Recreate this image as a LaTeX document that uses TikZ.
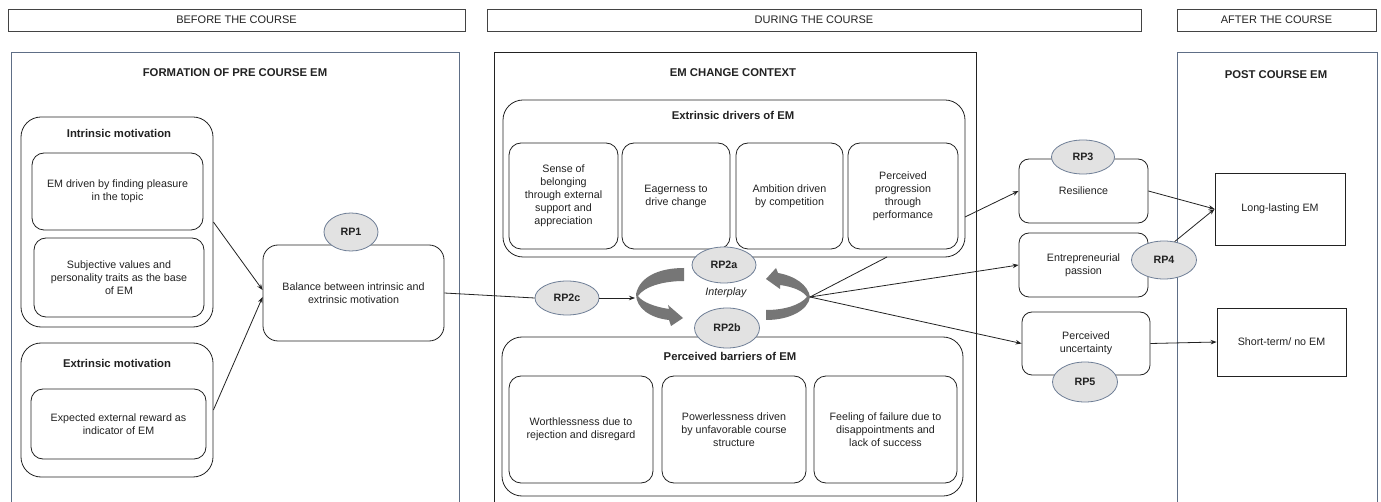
\documentclass[tikz,border=0pt]{standalone}
\usepackage{fontspec}
\setmainfont{Liberation Sans}
\usetikzlibrary{shapes.geometric,arrows.meta}
\definecolor{slate}{HTML}{5E6E86}
\definecolor{ink}{HTML}{222222}
\definecolor{rpfill}{HTML}{E2E2E2}
\definecolor{rpline}{HTML}{6E7E96}
\definecolor{ribboncol}{HTML}{767676}
\begin{document}
\begin{tikzpicture}[x=1pt,y=-1pt,
 body/.style={font=\fontsize{10.7}{13}\selectfont, text=ink, align=center},
 titlef/.style={font=\fontsize{11.3}{13}\selectfont\bfseries, text=ink, inner sep=0},
 hdr/.style={draw=ink!85, line width=0.9pt, font=\fontsize{11}{13}\selectfont, text=ink, inner sep=0},
 panel/.style={draw=slate, line width=0.9pt, inner sep=0},
 cpanel/.style={draw=ink, line width=0.9pt, inner sep=0},
 cont/.style={draw=ink, line width=0.8pt, rounded corners=20pt, inner sep=0},
 box/.style={draw=ink, line width=0.8pt, rounded corners=12pt, body, inner sep=0},
 sqbox/.style={draw=ink, line width=0.8pt, body, inner sep=0},
 rp/.style={ellipse, draw=rpline, fill=rpfill, line width=0.8pt, inner sep=0, font=\fontsize{10.7}{13}\selectfont\bfseries, text=ink},
 conn/.style={draw=ink, line width=0.8pt},
 arr/.style={conn, -{Stealth[length=6pt,width=4.5pt]}},
 ribbon/.style={fill=ribboncol},
]
\useasboundingbox (0,0) rectangle (1381,502);
\fill[white] (0,0) rectangle (1381,502);

% headers
\node[hdr, minimum width=457pt, minimum height=22pt] (hb) at (236.5,20) {BEFORE THE COURSE};
\node[hdr, minimum width=654pt, minimum height=22pt] (hd) at (814,20) {DURING THE COURSE};
\node[hdr, minimum width=199pt, minimum height=22pt] (ha) at (1276.5,20) {AFTER THE COURSE};

% panels
\node[panel, minimum width=448pt, minimum height=460pt] (pf) at (235,282) {};
\node[cpanel, minimum width=482pt, minimum height=460pt] (pc) at (735,282) {};
\node[panel, minimum width=200pt, minimum height=460pt] (pp) at (1277,282) {};
\node[titlef] (tf) at (235,73) {FORMATION OF PRE COURSE EM};
\node[titlef] (tc) at (733,73) {EM CHANGE CONTEXT};
\node[titlef] (tp) at (1276,75) {POST COURSE EM};

% before the course
\node[cont, minimum width=192pt, minimum height=210pt] (intr) at (117,222) {};
\node[titlef] (intrt) at (119,133) {Intrinsic motivation};
\node[box, minimum width=171pt, minimum height=77pt] (i1) at (117.5,191.5) {EM driven by finding pleasure\\in the topic};
\node[box, minimum width=170pt, minimum height=79pt] (i2) at (119,277.5) {Subjective values and\\personality traits as the base\\of EM};
\node[cont, minimum width=192pt, minimum height=134pt] (extr) at (117,410) {};
\node[titlef] (extrt) at (117,363) {Extrinsic motivation};
\node[box, minimum width=175pt, minimum height=70pt] (e1) at (118.5,424) {Expected external reward as\\indicator of EM};
\node[box, rounded corners=15pt, minimum width=181pt, minimum height=96pt] (bal) at (353.5,293) {Balance between intrinsic and\\extrinsic motivation};

% during the course
\node[cont, minimum width=462pt, minimum height=157pt] (drv) at (734,178.5) {};
\node[titlef] (drvt) at (733,115) {Extrinsic drivers of EM};
\node[box, minimum width=109pt, minimum height=106pt] (d1) at (563.5,196) {Sense of\\belonging\\through external\\support and\\appreciation};
\node[box, minimum width=108pt, minimum height=106pt] (d2) at (676,196) {Eagerness to\\drive change};
\node[box, minimum width=107pt, minimum height=106pt] (d3) at (789.5,196) {Ambition driven\\by competition};
\node[box, minimum width=110pt, minimum height=106pt] (d4) at (903,196) {Perceived\\progression\\through\\performance};

\node[cont, minimum width=461pt, minimum height=159pt] (bar) at (732.5,416.5) {};
\node[titlef] (bart) at (730,356) {Perceived barriers of EM};
\node[box, minimum width=144pt, minimum height=107pt] (b1) at (581,429.5) {Worthlessness due to\\rejection and disregard};
\node[box, minimum width=144pt, minimum height=107pt] (b2) at (734,429.5) {Powerlessness driven\\by unfavorable course\\structure};
\node[box, minimum width=143pt, minimum height=107pt] (b3) at (885.5,429.5) {Feeling of failure due to\\disappointments and\\lack of success};

% interplay ribbons
\fill[ribbon] (684,268) .. controls (660,268) and (640,276) .. (636,294)
  .. controls (636,308) and (650,318) .. (669,320) -- (671,326) -- (683,318) -- (668,305) -- (669,309)
  .. controls (655,307) and (642,302) .. (638,296)
  .. controls (644,287) and (662,281) .. (684,281) -- cycle;
\fill[ribbon] (766,320) .. controls (790,320) and (808,310) .. (810,297)
  .. controls (808,285) and (795,276) .. (778,273) -- (776,268) -- (766,279) -- (780,289) -- (780,285)
  .. controls (795,287) and (804,292) .. (807,297)
  .. controls (800,305) and (785,310) .. (766,310) -- cycle;
\node[body, font=\fontsize{10.7}{13}\selectfont\itshape] (ip) at (726,293) {Interplay};
\coordinate (lrib) at (635,298);
\coordinate (rrib) at (810,297);
\coordinate (drvhit) at (887,257);
\coordinate (drvout) at (965,217);

% after the course
\node[box, rounded corners=10pt, minimum width=129pt, minimum height=64pt] (res) at (1083.5,191) {Resilience};
\node[box, rounded corners=10pt, minimum width=129pt, minimum height=64pt] (ent) at (1083.5,265) {Entrepreneurial\\passion};
\node[box, rounded corners=10pt, minimum width=128pt, minimum height=63pt] (unc) at (1086,343.5) {Perceived\\uncertainty};
\node[sqbox, minimum width=130pt, minimum height=72pt] (ll) at (1280,209) {Long-lasting EM};
\node[sqbox, minimum width=129pt, minimum height=68pt] (st) at (1281.5,342) {Short-term/ no EM};

% connectors
\draw[arr] (intr.east) -- ([yshift=3pt]bal.west);
\draw[arr] (extr.east) -- ([yshift=-4pt]bal.west);
\node[rp, minimum width=64pt, minimum height=34pt] (rp2c) at (567,298) {RP2c};
\draw[conn] (bal.east) -- (rp2c.west);
\draw[arr] (rp2c.east) -- (lrib);
\draw[conn] (rrib) -- (drvhit);
\draw[arr] (rrib) -- (ent.west);
\draw[arr] (rrib) -- (unc.west);
\draw[arr] (drvout) -- (res.west);
\draw[arr] (res.east) -- (ll.west);
\draw[arr] (unc.east) -- (st.west);

% RP ellipses
\node[rp, minimum width=54pt, minimum height=38pt] (rp1) at (351,232) {RP1};
\node[rp, minimum width=64pt, minimum height=36pt] (rp2a) at (724,265) {RP2a};
\node[rp, minimum width=65pt, minimum height=40pt] (rp2b) at (727,328) {RP2b};
\node[rp, minimum width=63pt, minimum height=34pt] (rp3) at (1083,157) {RP3};
\node[rp, minimum width=65pt, minimum height=38pt] (rp4) at (1164,260) {RP4};
\node[rp, minimum width=65pt, minimum height=40pt] (rp5) at (1085,382) {RP5};
\draw[arr] (rp4.60) -- (ll.west);
\end{tikzpicture}
\end{document}
